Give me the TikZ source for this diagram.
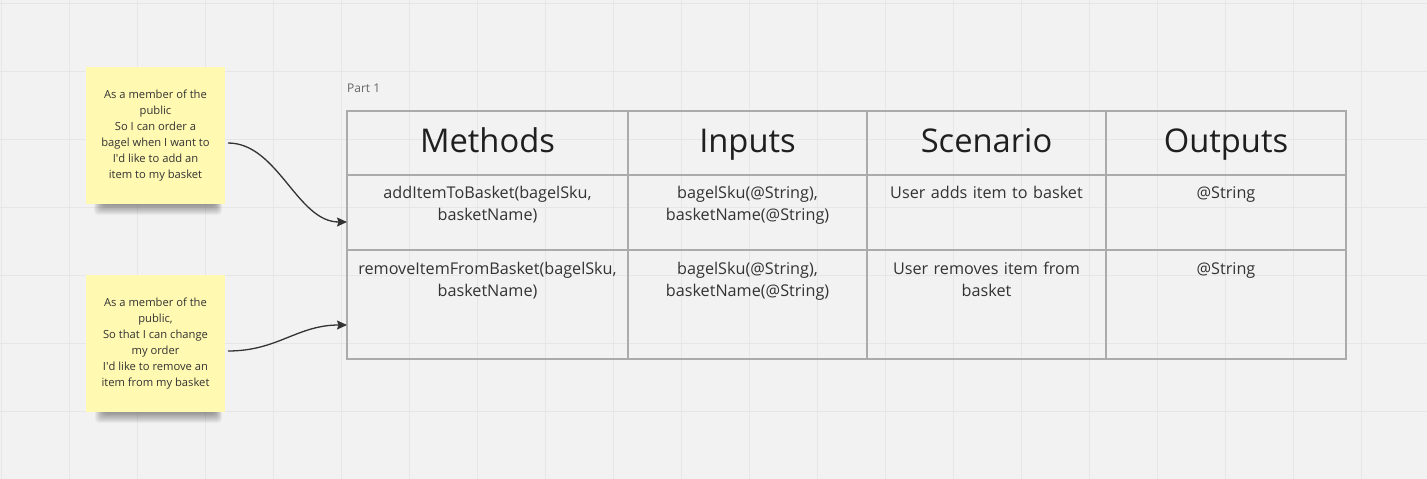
\documentclass[tikz,border=0pt]{standalone}
\usepackage{fontspec}
\setmainfont{Open Sans}
\usetikzlibrary{arrows.meta}
\definecolor{bg}{HTML}{F2F2F2}
\definecolor{gridc}{HTML}{E6E6E6}
\definecolor{notey}{HTML}{FFF9B1}
\definecolor{tline}{HTML}{ABABAB}
\definecolor{txt}{HTML}{333333}
\definecolor{head}{HTML}{1F1F1F}
\definecolor{arr}{HTML}{333333}
\begin{document}
\begin{tikzpicture}[x=1pt,y=-1pt,
  gridline/.style={draw=gridc,line width=1pt},
  notebox/.style={fill=notey,minimum width=139pt,minimum height=137pt,inner sep=0pt,align=center,
     text=txt,font=\fontsize{11.2}{16}\selectfont},
  cellbox/.style={draw=tline,line width=1.2pt,inner sep=0pt},
  headtext/.style={anchor=base,text=head,font=\fontsize{32.7}{38}\selectfont,inner sep=0pt},
  celltext/.style={anchor=base,text=txt,font=\fontsize{16.2}{22}\selectfont,inner sep=0pt,align=center},
  link/.style={draw=arr,line width=1.3pt,-{Stealth[length=10pt,width=9pt,inset=1.5pt]}},
  partlabel/.style={anchor=base west,text=black!60,font=\fontsize{12}{14}\selectfont,inner sep=0pt}]
\useasboundingbox (0,0) rectangle (1427,479);
\fill[bg] (0,0) rectangle (1427,479);
\foreach \x in {1,69,...,1427} \draw[gridline] (\x,0) -- (\x,479);
\foreach \y in {3,71,...,479} \draw[gridline] (0,\y) -- (1427,\y);
% shadows of notes
\foreach \k in {0,...,11} {
  \fill[black,opacity=0.035,rounded corners=4pt] (94+0.8*\k,200) rectangle (222-0.6*\k,215-0.9*\k);
  \fill[black,opacity=0.035,rounded corners=4pt] (95+0.8*\k,408) rectangle (222-0.6*\k,423-0.9*\k);
}
% notes
\node[notebox] (n1) at (155.5,135.5) {As a member of the\\public\\So I can order a\\bagel when I want to\\I\textquotesingle d like to add an\\item to my basket};
\node[notebox] (n2) at (155.5,343.5) {As a member of the\\public,\\So that I can change\\my order\\I\textquotesingle d like to remove an\\item from my basket};
% table
\node[partlabel] (part) at (347,92.5) {Part 1};
\node[cellbox,minimum width=281pt,minimum height=64pt] (h1) at (487.5,143) {};
\node[cellbox,minimum width=239pt,minimum height=64pt] (h2) at (747.5,143) {};
\node[cellbox,minimum width=239pt,minimum height=64pt] (h3) at (986.5,143) {};
\node[cellbox,minimum width=240pt,minimum height=64pt] (h4) at (1226,143) {};
\node[cellbox,minimum width=281pt,minimum height=75pt] (a1) at (487.5,212.5) {};
\node[cellbox,minimum width=239pt,minimum height=75pt] (a2) at (747.5,212.5) {};
\node[cellbox,minimum width=239pt,minimum height=75pt] (a3) at (986.5,212.5) {};
\node[cellbox,minimum width=240pt,minimum height=75pt] (a4) at (1226,212.5) {};
\node[cellbox,minimum width=281pt,minimum height=109pt] (b1) at (487.5,304.5) {};
\node[cellbox,minimum width=239pt,minimum height=109pt] (b2) at (747.5,304.5) {};
\node[cellbox,minimum width=239pt,minimum height=109pt] (b3) at (986.5,304.5) {};
\node[cellbox,minimum width=240pt,minimum height=109pt] (b4) at (1226,304.5) {};
\node[headtext] (t1) at (487.5,152) {Methods};
\node[headtext] (t2) at (747.5,152) {Inputs};
\node[headtext] (t3) at (986.5,152) {Scenario};
\node[headtext] (t4) at (1226,152) {Outputs};
\node[celltext,text width=276pt] (c11) at (487.5,198) {addItemToBasket(bagelSku,\\basketName)};
\node[celltext,text width=234pt] (c12) at (747.5,198) {bagelSku(@String),\\basketName(@String)};
\node[celltext,text width=234pt] (c13) at (986.5,198) {User adds item to basket};
\node[celltext,text width=234pt] (c14) at (1226,198) {@String};
\node[celltext,text width=278pt] (c21) at (487.5,274) {removeItemFromBasket(bagelSku,\\basketName)};
\node[celltext,text width=234pt] (c22) at (747.5,274) {bagelSku(@String),\\basketName(@String)};
\node[celltext,text width=234pt] (c23) at (986.5,274) {User removes item from\\basket};
\node[celltext,text width=234pt] (c24) at (1226,274) {@String};
% connectors
\coordinate (o1) at (228,143);
\coordinate (i1) at (347,222);
\coordinate (o2) at (228,351);
\coordinate (i2) at (347,325);
\draw[link] (o1) .. controls +(50,0) and +(-50,0) .. (i1);
\draw[link] (o2) .. controls +(50,0) and +(-50,0) .. (i2);
\end{tikzpicture}
\end{document}
